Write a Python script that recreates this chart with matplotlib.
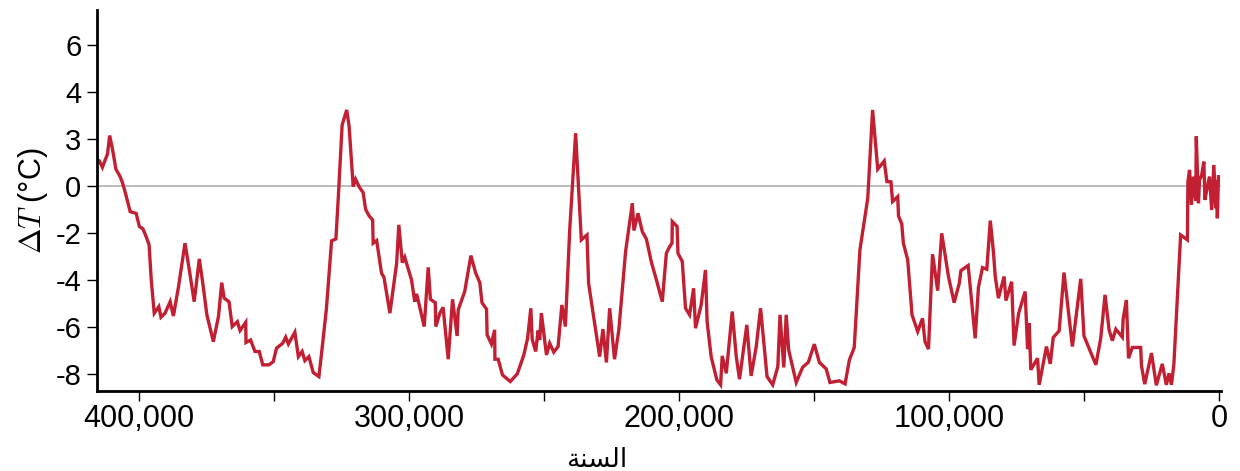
import matplotlib
matplotlib.use("Agg")
import matplotlib.pyplot as plt
from matplotlib.ticker import FixedLocator

# ── data: years before present / temperature anomaly (°C) ───────
years = [
    415400, 414700, 413600, 411700, 410900, 409800, 408600, 407000, 406100, 405200,
    403300, 401100, 399900, 398600, 397400, 396300, 395500, 394400, 392700, 391900,
    390400, 388500, 387300, 385400, 383000, 381400, 379600, 377700, 376400, 374900,
    372500, 370600, 369400, 368500, 366700, 365500, 363600, 362600, 360500, 360400,
    358700, 357100, 355500, 354200, 351900, 350300, 349100, 346800, 345700, 344700,
    342300, 341000, 339600, 338600, 337100, 335500, 333400, 332000, 330600, 328700,
    327100, 326200, 324800, 323100, 322200, 320700, 319800, 318400, 317000, 316100,
    314800, 313500, 313300, 312000, 310200, 309300, 307100, 304600, 303800, 302500,
    301600, 299100, 297900, 297200, 295800, 294400, 292900, 292100, 290300, 290100,
    288600, 287400, 285500, 283900, 282200, 281800, 279400, 277100, 275300, 273800,
    273000, 271300, 271100, 269500, 268300, 268200, 267000, 265400, 262500, 259900,
    257500, 256100, 254900, 254400, 253100, 252200, 251600, 251000, 249100, 247900,
    246400, 244800, 243400, 242100, 240500, 238300, 236200, 234100, 233500, 229400,
    228200, 226900, 225700, 223900, 222300, 219800, 217300, 216700, 215200, 213600,
    212100, 210300, 208200, 206200, 204700, 203500, 202600, 202500, 200700, 200400,
    198800, 197600, 196100, 194600, 193900, 191800, 190200, 189600, 188100, 186900,
    186000, 184600, 184000, 182500, 180300, 178800, 177600, 174900, 173300, 171400,
    169800, 167400, 165300, 163400, 162600, 161200, 160300, 159400, 156600, 154200,
    152100, 149900, 148000, 145500, 144100, 140600, 138500, 136900, 135100, 133000,
    130100, 128300, 126400, 124000, 123000, 121500, 120900, 119000, 118700, 117500,
    116900, 115300, 113700, 111600, 109800, 108900, 107600, 106100, 104200, 102700,
    100200, 98100, 96200, 95600, 92900, 90300, 89100, 87600, 86000, 84700,
    83500, 82900, 81700, 80500, 79600, 78900, 76800, 75900, 74200, 71800,
    70900, 70300, 69700, 67200, 66600, 63900, 62500, 61400, 59200, 57400,
    54300, 51200, 50000, 45600, 43800, 42200, 40700, 39500, 38200, 35800,
    35500, 34300, 33500, 32100, 29000, 28700, 27500, 25000, 23200, 21000,
    19500, 18500, 17600, 16700, 14200, 11700, 11500, 10900, 10200, 9500,
    8600, 8400, 7600, 7200, 6400, 5600, 5200, 4300, 3500, 2700,
    1900, 1200, 900, 600, 200,
]
temps = [
    1.10, 1.05, 0.78, 1.35, 2.13, 1.52, 0.70, 0.38, 0.10, -0.26,
    -1.11, -1.18, -1.74, -1.84, -2.17, -2.52, -4.01, -5.43, -5.15, -5.60,
    -5.43, -4.94, -5.55, -4.30, -2.45, -3.59, -4.94, -3.12, -4.16, -5.50,
    -6.64, -5.57, -4.13, -4.79, -4.94, -6.00, -5.79, -6.17, -5.82, -6.68,
    -6.57, -7.06, -7.06, -7.63, -7.63, -7.49, -6.92, -6.71, -6.45, -6.74,
    -6.24, -7.28, -7.06, -7.45, -7.28, -7.96, -8.13, -6.71, -5.22, -2.35,
    -2.27, -0.47, 2.58, 3.22, 2.51, -0.04, 0.27, -0.07, -0.30, -1.01,
    -1.29, -1.46, -2.45, -2.34, -3.73, -3.90, -5.43, -3.30, -1.67, -3.28,
    -3.05, -4.01, -4.94, -4.61, -5.29, -6.00, -3.48, -4.84, -4.98, -6.00,
    -5.43, -5.18, -7.39, -4.84, -6.40, -5.29, -4.51, -2.98, -3.73, -4.13,
    -4.98, -5.26, -6.35, -6.74, -6.14, -7.39, -7.39, -8.06, -8.34, -8.01,
    -7.21, -6.50, -5.22, -6.54, -7.06, -6.17, -6.57, -5.43, -7.21, -6.71,
    -7.09, -6.85, -5.08, -6.00, -1.89, 2.23, -2.31, -2.10, -4.16, -7.28,
    -6.11, -7.53, -5.22, -7.39, -6.14, -2.81, -0.75, -1.91, -1.18, -1.96,
    -2.27, -3.23, -4.09, -4.94, -2.88, -2.60, -2.45, -1.53, -1.74, -2.88,
    -3.23, -5.22, -5.50, -4.37, -6.07, -5.08, -3.59, -5.79, -7.28, -7.84,
    -8.27, -8.48, -7.25, -7.99, -5.36, -7.28, -8.24, -5.93, -8.10, -6.85,
    -5.22, -8.13, -8.48, -7.70, -5.50, -7.74, -5.50, -6.99, -8.38, -7.73,
    -7.52, -6.75, -7.53, -7.80, -8.38, -8.31, -8.44, -7.42, -6.89, -2.74,
    -0.54, 3.22, 0.70, 1.05, 0.17, 0.16, -0.68, -0.47, -1.29, -1.63,
    -2.45, -3.16, -5.50, -6.21, -5.65, -6.64, -6.96, -2.92, -4.47, -2.03,
    -3.87, -4.98, -4.16, -3.62, -3.40, -6.50, -4.33, -3.49, -3.56, -1.49,
    -2.88, -3.84, -4.79, -4.27, -3.87, -4.89, -4.09, -6.81, -5.43, -4.51,
    -6.96, -5.86, -7.84, -7.35, -8.48, -6.85, -7.59, -6.47, -6.18, -3.70,
    -6.85, -3.97, -6.40, -7.63, -6.50, -4.65, -6.14, -6.60, -6.11, -6.45,
    -5.69, -4.87, -7.35, -6.89, -6.89, -7.67, -8.45, -7.13, -8.50, -7.59,
    -8.48, -7.99, -8.48, -7.60, -2.10, -2.31, 0.17, 0.67, -0.82, 0.38,
    -0.64, 2.09, -0.75, 0.24, 0.45, 1.02, -0.61, -0.04, 0.38, -1.04,
    0.88, -0.96, 0.24, -1.39, 0.38,
]

x_major = [400000, 300000, 200000, 100000, 0]
x_major_labels = ["400,000", "300,000", "200,000", "100,000", "0"]
x_minor = [350000, 250000, 150000, 50000]
y_ticks = [-8, -6, -4, -2, 0, 2, 4, 6]
y_tick_labels = ["-8", "-6", "-4", "-2", "0", "3", "4", "6"]  # as printed in the original

# ── style ───────────────────────────────────────────────────────
RED = "#C21F32"
GREY = "#AAAAAA"
plt.rcParams["font.family"] = ["Liberation Sans", "DejaVu Sans"]
plt.rcParams["mathtext.fontset"] = "cm"

fig = plt.figure(figsize=(12.4, 4.71), dpi=100)
ax = fig.add_axes([0.078, 0.169, 0.907, 0.81])

ax.axhline(0, color=GREY, linewidth=1.1, zorder=1)
ax.plot(years, temps, color=RED, linewidth=2.4, solid_joinstyle="miter", zorder=2)

ax.set_xlim(415700, -900)
ax.set_ylim(-8.76, 7.48)

ax.xaxis.set_major_locator(FixedLocator(x_major))
ax.set_xticklabels(x_major_labels)
ax.xaxis.set_minor_locator(FixedLocator(x_minor))
ax.set_yticks(y_ticks)
ax.set_yticklabels(y_tick_labels)

ax.tick_params(axis="x", which="both", length=7, width=1, direction="out",
               labelsize=22, pad=2)
ax.tick_params(axis="y", length=7, width=1, direction="out", labelsize=21, pad=4)

for side in ("top", "right"):
    ax.spines[side].set_visible(False)
for side in ("left", "bottom"):
    ax.spines[side].set_linewidth(2)

ax.set_ylabel(r"$\Delta T$ (°C)", fontsize=22, labelpad=4)

# Arabic "السنة" in presentation forms (matplotlib does no Arabic shaping)
ax.set_xlabel("\ufe94\ufee8\ufeb4\ufedf\ufe8d", fontsize=19, family="DejaVu Sans")
ax.xaxis.set_label_coords(0.445, -0.145)

fig.savefig("out.png", dpi=100)
